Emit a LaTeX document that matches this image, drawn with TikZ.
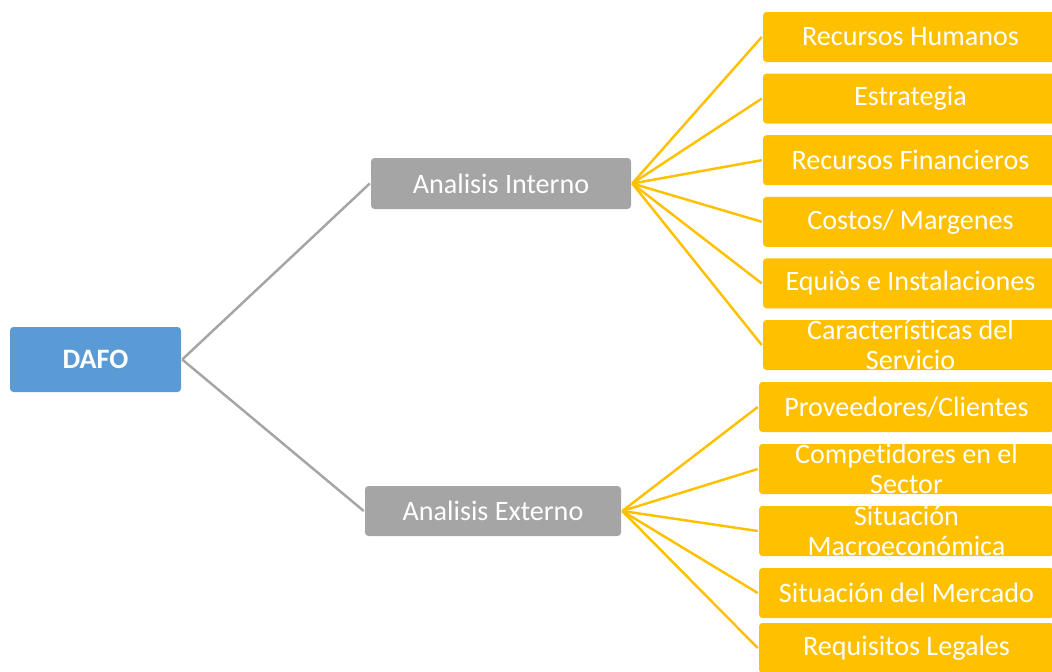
\documentclass[tikz,border=0pt]{standalone}
\usepackage{fontspec}
\setmainfont{Carlito}[Ligatures={NoCommon}]
\usetikzlibrary{positioning}
\definecolor{dafoblue}{HTML}{5B9BD5}
\definecolor{dafogray}{HTML}{A5A5A5}
\definecolor{dafoyellow}{HTML}{FFC000}
\tikzset{
  basic/.style  = {rectangle, rounded corners=2pt, align=center, text=white, inner sep=0pt,
                   font=\fontsize{16}{17}\selectfont},
  root/.style   = {basic, fill=dafoblue, minimum width=3.42cm, minimum height=1.3cm, font=\fontsize{16}{17}\selectfont\bfseries},
  level 2/.style = {basic, fill=dafogray, minimum width=5.2cm, minimum height=1.02cm},
  level 3/.style = {basic, fill=dafoyellow, minimum width=5.9cm, minimum height=1.0cm}
}
\begin{document}
\begin{tikzpicture}[line width=1.4pt]
\useasboundingbox (0,0) rectangle (21.04,-13.42);
\clip (0,0) rectangle (21.04,-13.42);

% root and the two analysis branches
\node [root] (r) at (1.91,-7.19) {DAFO};
\node [level 2] (c1) at (10.02,-3.67) {Analisis Interno};
\node [level 2, minimum width=5.12cm, minimum height=1.0cm] (c2) at (9.86,-10.22) {Analisis Externo};

\draw [dafogray] (r.east) -- (c1.west);
\draw [dafogray] (r.east) -- (c2.west);

% internal factors
\begin{scope}[every node/.style={level 3}, node distance=1.232cm]
\node at (18.21,-0.74) (c11) {Recursos Humanos};
\node [below of = c11] (c12) {Estrategia};
\node [below of = c12] (c13) {Recursos Financieros};
\node [below of = c13] (c14) {Costos/ Margenes};
\node [below of = c14] (c15) {Equiòs e Instalaciones};
\node [below of = c15] (c16) {Características del\\Servicio};
\end{scope}

% external factors
\begin{scope}[every node/.style={level 3}, node distance=1.24cm]
\node at (18.13,-8.14) (c21) {Proveedores/Clientes};
\node [below of = c21] (c22) {Competidores en el\\Sector};
\node [below of = c22] (c23) {Situación\\Macroeconómica};
\node [below of = c23] (c24) {Situación del Mercado};
\node [below of = c24, yshift=0.14cm] (c25) {Requisitos Legales};
\end{scope}

% lines from each branch to its factors
\foreach \value in {1,...,6}
  \draw [dafoyellow] (c1.east) -- (c1\value.west);
\foreach \value in {1,...,5}
  \draw [dafoyellow] (c2.east) -- (c2\value.west);

\end{tikzpicture}
\end{document}
